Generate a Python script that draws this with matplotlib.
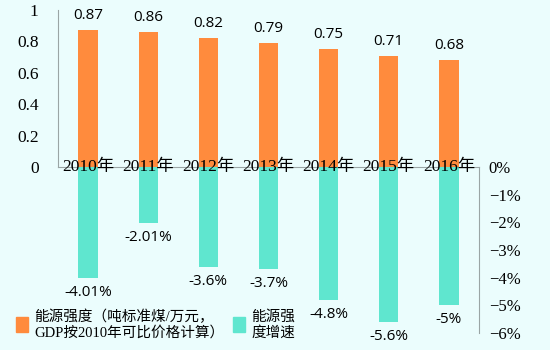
import numpy as np
import matplotlib.pyplot as plt
from matplotlib.patches import Patch

# data
years = ["2010年", "2011年", "2012年", "2013年", "2014年", "2015年", "2016年"]
intensity = [0.87, 0.86, 0.82, 0.79, 0.75, 0.71, 0.68]
growth = [-4.01, -2.01, -3.6, -3.7, -4.8, -5.6, -5.0]
growth_labels = ["-4.01%", "-2.01%", "-3.6%", "-3.7%", "-4.8%", "-5.6%", "-5%"]
left_ticks = [0, 0.2, 0.4, 0.6, 0.8, 1]
right_ticks = [0, -1, -2, -3, -4, -5, -6]

orange = "#FF8B3D"
teal = "#5FE6CF"
bg = "#EBFDFD"
grey = "#9AA5A5"
serif = ["Liberation Serif", "Noto Sans CJK SC"]
sans = ["Open Sans", "DejaVu Sans"]

fig = plt.figure(figsize=(5.5, 3.5), dpi=100, facecolor=bg)
W, H = 550, 350
x0, x1 = 58, 479
ax_top = fig.add_axes([x0 / W, (H - 167) / H, (x1 - x0) / W, 157 / H])
ax_bot = fig.add_axes([x0 / W, (H - 333) / H, (x1 - x0) / W, 166 / H])

x = np.arange(len(years))
bw = 0.32

# upper part: energy intensity
ax_top.bar(x, intensity, width=bw, color=orange)
ax_top.set_xlim(-0.5, len(years) - 0.5)
ax_top.set_ylim(0, 1)
ax_top.set_yticks(left_ticks)
ax_top.set_yticklabels([f"{v:g}" for v in left_ticks], family=serif, fontsize=12.5)
ax_top.tick_params(axis="y", length=0, pad=14)
ax_top.set_xticks([])
for s in ["top", "right"]:
    ax_top.spines[s].set_visible(False)
for s in ["left", "bottom"]:
    ax_top.spines[s].set_color(grey)
    ax_top.spines[s].set_linewidth(0.8)
ax_top.set_facecolor("none")
for xi, v in zip(x, intensity):
    ax_top.annotate(f"{v:.2f}", (xi, v), xytext=(0, 5), textcoords="offset points",
                    ha="center", va="bottom", fontsize=11, family=sans)

# lower part: growth rate, right axis
ax_bot.bar(x, growth, width=bw, color=teal)
ax_bot.set_xlim(-0.5, len(years) - 0.5)
ax_bot.set_ylim(-6, 0)
ax_bot.yaxis.tick_right()
ax_bot.set_yticks(right_ticks)
ax_bot.set_yticklabels([f"{v}%".replace("-", "\u2212") for v in right_ticks],
                       family=serif, fontsize=12)
ax_bot.tick_params(axis="y", length=0, pad=7)
ax_bot.set_xticks([])
for s in ["top", "left", "bottom"]:
    ax_bot.spines[s].set_visible(False)
ax_bot.spines["right"].set_color(grey)
ax_bot.spines["right"].set_linewidth(0.8)
ax_bot.set_facecolor("none")
for xi, v, lab in zip(x, growth, growth_labels):
    ax_bot.annotate(lab, (xi, v), xytext=(0, -5), textcoords="offset points",
                    ha="center", va="top", fontsize=11, family=sans)

# year labels sit on the zero line, above both sets of bars
for xi, yr in zip(x, years):
    ax_bot.text(xi, 0, yr, ha="center", va="center", fontsize=12.5, family=serif,
                clip_on=False, zorder=5)

handles = [Patch(color=orange, label="能源强度（吨标准煤/万元，\nGDP按2010年可比价格计算）"),
           Patch(color=teal, label="能源强\n度增速")]
fig.legend(handles=handles, loc="lower left", bbox_to_anchor=(0.018, 0.012), ncol=2,
           frameon=False, prop={"family": serif, "size": 10.5}, handlelength=0.85,
           handleheight=1.2, handletextpad=0.4, columnspacing=0.6, borderaxespad=0,
           labelspacing=0)

fig.savefig("out.png", dpi=100, facecolor=bg)
